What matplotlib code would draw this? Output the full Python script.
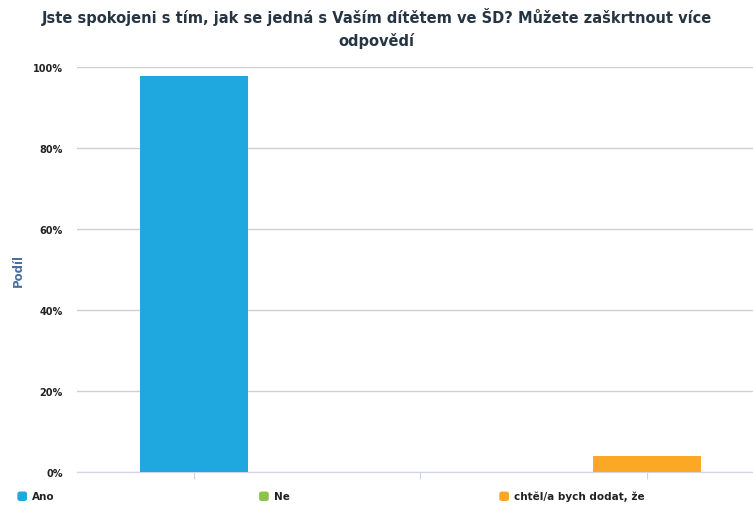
import matplotlib.pyplot as plt
from matplotlib.patches import FancyBboxPatch

# data
categories = ["Ano", "Ne", "chtěl/a bych dodat, že"]
shares = [97.8, 0.0, 4.0]
colors = ["#1fa8e0", "#8cc44a", "#fba925"]
yticks = [0, 20, 40, 60, 80, 100]
ytick_labels = ["0%", "20%", "40%", "60%", "80%", "100%"]

title = "Jste spokojeni s tím, jak se jedná s Vaším dítětem ve ŠD? Můžete zaškrtnout více\nodpovědí"

fig = plt.figure(figsize=(7.53, 5.10), dpi=100)
ax = fig.add_axes([0.102, 0.0725, 0.898, 0.794])

x = range(len(categories))
ax.bar(x, shares, width=0.477, color=colors, zorder=3)

ax.set_xlim(-0.517, 2.468)
ax.set_ylim(0, 100)
ax.set_yticks(yticks)
ax.set_yticklabels(ytick_labels, fontsize=7, fontweight="bold", color="#222222")
ax.set_xticks(list(x))
ax.set_xticklabels([])
ax.tick_params(axis="y", length=0, pad=10)
ax.tick_params(axis="x", length=5, color="#ccd6eb")
ax.grid(axis="y", color="#d0d0d0", linewidth=1, zorder=0)
for s in ["top", "right", "left"]:
    ax.spines[s].set_visible(False)
ax.spines["bottom"].set_color("#ccd6eb")

# axis title sits close to the left edge
fig.text(0.024, 0.47, "Podíl", rotation=90, ha="center", va="center",
         fontsize=8.5, fontweight="bold", color="#4a6e9e")

fig.text(0.5, 0.985, title, ha="center", va="top", fontsize=10.5,
         fontweight="bold", color="#253544", linespacing=1.6)

# legend along the bottom
leg_x = [0.024, 0.345, 0.664]
for xi, name, c in zip(leg_x, categories, colors):
    fig.patches.append(FancyBboxPatch((xi, 0.017), 0.011, 0.016,
                                      boxstyle="round,pad=0,rounding_size=0.003",
                                      transform=fig.transFigure, color=c))
    fig.text(xi + 0.019, 0.025, name, ha="left", va="center", fontsize=7.5,
             fontweight="bold", color="#222222")

fig.savefig("out.png", dpi=100)
